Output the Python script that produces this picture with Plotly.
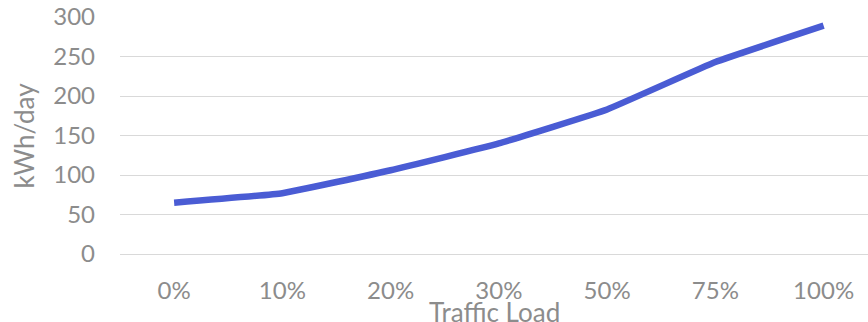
import plotly.graph_objects as go

categories = ["0%", "10%", "20%", "30%", "50%", "75%", "100%"]
energy = [65, 77, 106, 140, 183, 243, 289]
y_ticks = [0, 50, 100, 150, 200, 250, 300]

GRAY = "#8c8c8c"
FONT = "Lato"

fig = go.Figure()
fig.add_trace(go.Scatter(
    x=list(range(len(categories))), y=energy, mode="lines",
    line=dict(color="#4a5cd4", width=6.5, shape="spline", smoothing=0.3),
    hoverinfo="skip", showlegend=False,
))

fig.update_layout(
    width=868, height=322,
    margin=dict(l=120, r=0, t=17, b=68),
    paper_bgcolor="white", plot_bgcolor="white",
    font=dict(family=FONT, color=GRAY, size=24),
    xaxis=dict(
        range=[-0.5, 6.41], tickmode="array",
        tickvals=list(range(len(categories))), ticktext=categories,
        showgrid=False, zeroline=False, showline=False,
        ticks="", ticklabelstandoff=20,
        tickfont=dict(family=FONT, color=GRAY, size=24),
    ),
    yaxis=dict(
        range=[0, 300], tickmode="array", tickvals=y_ticks,
        showgrid=True, gridcolor="#d9d9d9", gridwidth=1.3,
        zeroline=True, zerolinecolor="#d9d9d9", zerolinewidth=1.3,
        showline=False, ticks="", ticklabelstandoff=24,
        tickfont=dict(family=FONT, color=GRAY, size=24),
    ),
    annotations=[
        dict(text="Traffic Load", xref="paper", yref="paper", x=0.5, y=0,
             yshift=-40, xanchor="center", yanchor="top", showarrow=False,
             font=dict(family=FONT, color=GRAY, size=26)),
        dict(text="kWh/day", xref="paper", yref="paper", x=0, y=0.5,
             xshift=-97, xanchor="center", yanchor="middle", textangle=-90,
             showarrow=False, font=dict(family=FONT, color=GRAY, size=26)),
    ],
)

fig.write_html("out.html")
